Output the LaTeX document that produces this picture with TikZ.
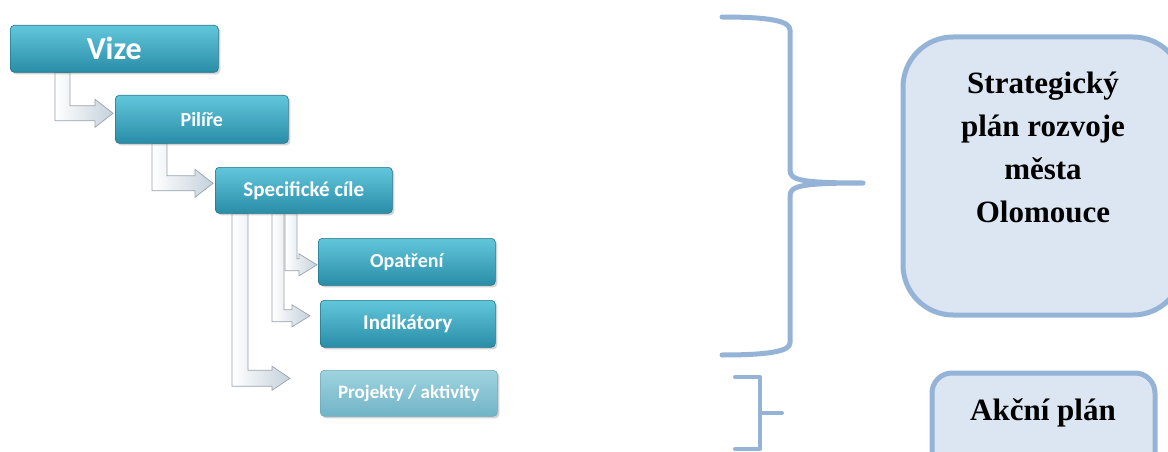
\documentclass[tikz,border=0pt]{standalone}
\usepackage{fontspec}
\setmainfont{Liberation Serif}
\newfontfamily\boxfont{Carlito}
\usetikzlibrary{calc,shadows}
\pgfdeclarelayer{bg}
\pgfsetlayers{bg,main}
\definecolor{tealtop}{HTML}{62C6DB}
\definecolor{tealbot}{HTML}{2A8DA8}
\definecolor{tealedge}{HTML}{22748A}
\definecolor{paletop}{HTML}{9FD3E0}
\definecolor{palebot}{HTML}{70B4C6}
\definecolor{paleedge}{HTML}{6FA9BA}
\definecolor{arrowfill}{HTML}{C5D1DB}
\definecolor{arrowedge}{HTML}{98A3AD}
\definecolor{bracecol}{HTML}{95B3D7}
\definecolor{planfill}{HTML}{DCE6F2}
\tikzset{
  tealbox/.style={draw=tealedge, line width=0.6pt, top color=tealtop, bottom color=tealbot,
    rounded corners=4pt, anchor=north west, text=white, inner sep=0pt,
    drop shadow={shadow xshift=2pt, shadow yshift=-2pt, opacity=0.35},
    font=\boxfont\bfseries\fontsize{20}{22}\selectfont},
  palebox/.style={tealbox, draw=paleedge, top color=paletop, bottom color=palebot},
  elbowarrow/.style={left color=white, right color=arrowfill, draw=arrowedge, line width=0.7pt},
  brace/.style={draw=bracecol, line width=5pt, line cap=round, line join=round},
  planbox/.style={draw=bracecol, line width=5pt, fill=planfill},
  plantext/.style={align=center, font=\bfseries\fontsize{31}{43}\selectfont}
}
% #1 source, #2 target, #3 shaft x offset from source west, #4 shaft width,
% #5 shift of arrow axis downward from target west, #6 gap before target, #7 head half-width
\newcommand\elbowto[7]{%
  \begin{pgfonlayer}{bg}
  \path[elbowarrow] let \p1=(#1.south west), \p2=(#2.west),
      \n1={\y2-(#5pt)}, \n2={#4pt/2}, \n3={\x2-#6pt-18pt}, \n4={\x1+#3pt}, \n5={\x1+#3pt+#4pt} in
    ({\n4},{\y1}) -- ({\n5},{\y1})
    -- ({\n5},{\n1+\n2})
    -- ({\n3},{\n1+\n2})
    -- ({\n3},{\n1+#7pt})
    -- ({\x2-#6pt},{\n1})
    -- ({\n3},{\n1-#7pt})
    -- ({\n3},{\n1-\n2})
    -- ({\n4},{\n1-\n2}) -- cycle;
  \end{pgfonlayer}}
\begin{document}
\begin{tikzpicture}[x=1pt,y=-1pt]
\useasboundingbox (0,0) rectangle (1168,452);
% left hierarchy
\node[tealbox, minimum width=208pt, minimum height=47pt,
  font=\boxfont\bfseries\fontsize{32}{34}\selectfont] (vize) at (10,25) {Vize};
\node[tealbox, minimum width=173pt, minimum height=48pt] (pilire) at (115,95) {Pilíře};
\node[tealbox, minimum width=177pt, minimum height=46pt,
  font=\boxfont\bfseries\fontsize{21}{23}\selectfont] (cile) at (215,167) {Specifické cíle};
\node[tealbox, minimum width=177pt, minimum height=47pt] (opatreni) at (318,238) {Opatření};
\node[tealbox, minimum width=175pt, minimum height=47pt,
  font=\boxfont\bfseries\fontsize{21}{23}\selectfont] (indikatory) at (320,300) {Indikátory};
\node[palebox, minimum width=177pt, minimum height=46pt,
  font=\boxfont\bfseries\fontsize{19}{21}\selectfont] (projekty) at (320,370) {Projekty / aktivity};
\elbowto{vize}{pilire}{45}{15}{-6}{2}{14}
\elbowto{pilire}{cile}{37}{15}{-7}{2}{14}
\elbowto{cile}{opatreni}{70}{12}{3}{1}{11}
\elbowto{cile}{indikatory}{57}{12}{-8}{10}{11}
\elbowto{cile}{projekty}{17}{16}{-15}{30}{12}
% braces
\draw[brace] (722,17) .. controls (770,17) and (790,21) .. (790,30)
  -- (790,170) .. controls (790,180) and (800,183) .. (863,183)
  .. controls (800,183) and (790,186) .. (790,196)
  -- (790,343) .. controls (790,351) and (770,355) .. (722,355);
\draw[brace, line width=4pt] (735,377) -- (760,377) -- (760,413) -- (782,413)
  (760,413) -- (760,449) -- (735,449);
% right boxes
\node[planbox, minimum width=280pt, minimum height=278pt, rounded corners=50pt] (strat) at (1043,176) {};
\node[plantext] (strattext) at (1043,147) {Strategický\\plán rozvoje\\města\\Olomouce};
\node[planbox, minimum width=223pt, minimum height=110pt, rounded corners=20pt] (akcni) at (1043.5,428) {};
\node[plantext] (akcnitext) at (1043,413) {Akční plán};
\end{tikzpicture}
\end{document}
